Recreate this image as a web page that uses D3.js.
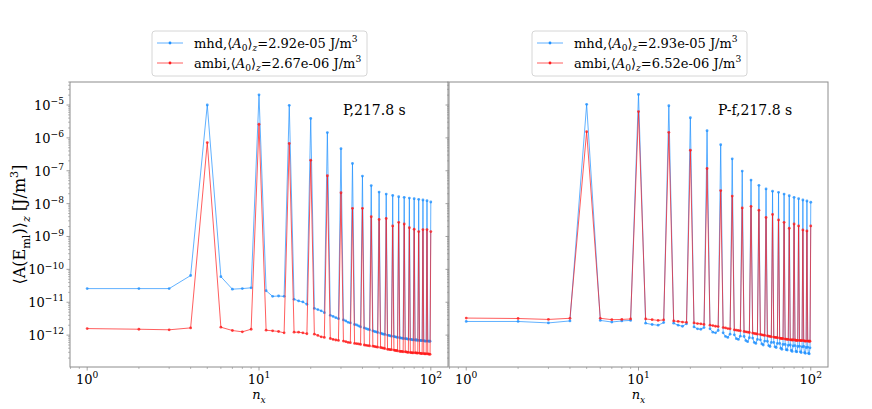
<!DOCTYPE html>
<html>
<head>
<meta charset="utf-8">
<script src="https://cdn.jsdelivr.net/npm/d3@7"></script>
<style>
  body { margin: 0; background: #fff; }
  svg { display: block; }
  text { font-family: 'DejaVu Serif', serif; fill: #000; }
</style>
</head>
<body>
<div id="chart"></div>
<script>
// n_x values, 1..100
const nx = d3.range(1, 101);

// left panel (P, 217.8 s)
const mhdP = [
  2.6e-11, 2.6e-11, 2.6e-11, 6.5e-11, 1.0e-5,
  6.0e-11, 2.5e-11, 2.6e-11, 2.75e-11, 2.04e-5,
  2.24e-11, 1.51e-11, 1.55e-11, 1.51e-11, 9.8e-6,
  1.23e-11, 1.10e-11, 1.02e-11, 8.7e-12, 3.9e-6,
  6.5e-12, 6.0e-12, 5.5e-12, 4.8e-12, 1.45e-6,
  4.0e-12, 3.7e-12, 3.4e-12, 3.16e-12, 4.7e-7,
  2.9e-12, 2.7e-12, 2.45e-12, 2.35e-12, 1.66e-7,
  2.1e-12, 2.04e-12, 1.9e-12, 1.78e-12, 6.9e-8,
  1.66e-12, 1.58e-12, 1.51e-12, 1.45e-12, 3.55e-8,
  1.35e-12, 1.29e-12, 1.26e-12, 1.20e-12, 2.24e-8,
  1.15e-12, 1.10e-12, 1.07e-12, 1.05e-12, 1.95e-8,
  1.0e-12, 9.8e-13, 9.5e-13, 9.3e-13, 1.78e-8,
  9.1e-13, 8.9e-13, 8.7e-13, 8.5e-13, 1.62e-8,
  8.3e-13, 8.1e-13, 8.1e-13, 7.9e-13, 1.55e-8,
  7.8e-13, 7.8e-13, 7.6e-13, 7.6e-13, 1.48e-8,
  7.4e-13, 7.4e-13, 7.2e-13, 7.2e-13, 1.41e-8,
  7.1e-13, 7.1e-13, 7.1e-13, 6.9e-13, 1.35e-8,
  6.9e-13, 6.9e-13, 6.8e-13, 6.8e-13, 1.29e-8,
  6.8e-13, 6.6e-13, 6.6e-13, 6.6e-13, 1.23e-8,
  6.6e-13, 6.6e-13, 6.5e-13, 6.5e-13, 1.12e-8
];
const ambiP = [
  1.58e-12, 1.51e-12, 1.45e-12, 1.66e-12, 7.2e-7,
  1.74e-12, 1.38e-12, 1.26e-12, 1.51e-12, 2.6e-6,
  1.41e-12, 1.35e-12, 1.29e-12, 1.17e-12, 6.8e-7,
  1.23e-12, 1.23e-12, 1.17e-12, 1.10e-12, 2.1e-7,
  1.07e-12, 9.8e-13, 8.9e-13, 8.5e-13, 7.1e-8,
  7.9e-13, 7.4e-13, 7.1e-13, 6.9e-13, 2.14e-8,
  6.6e-13, 6.3e-13, 6.0e-13, 5.9e-13, 7.2e-9,
  5.6e-13, 5.5e-13, 5.4e-13, 5.2e-13, 7.2e-9,
  5.0e-13, 4.9e-13, 4.8e-13, 4.7e-13, 4.0e-9,
  4.6e-13, 4.5e-13, 4.4e-13, 4.3e-13, 3.3e-9,
  4.2e-13, 4.1e-13, 4.0e-13, 3.9e-13, 3.55e-9,
  3.7e-13, 3.7e-13, 3.6e-13, 3.6e-13, 2.1e-9,
  3.5e-13, 3.4e-13, 3.4e-13, 3.3e-13, 2.7e-9,
  3.2e-13, 3.2e-13, 3.2e-13, 3.1e-13, 2.4e-9,
  3.1e-13, 3.1e-13, 3.0e-13, 3.0e-13, 1.86e-9,
  2.95e-13, 2.95e-13, 2.9e-13, 2.9e-13, 1.66e-9,
  2.9e-13, 2.9e-13, 2.85e-13, 2.85e-13, 1.41e-9,
  2.85e-13, 2.8e-13, 2.75e-13, 2.75e-13, 1.62e-9,
  2.75e-13, 2.7e-13, 2.7e-13, 2.7e-13, 1.62e-9,
  2.7e-13, 2.65e-13, 2.65e-13, 2.6e-13, 1.41e-9
];

// right panel (P-f, 217.8 s)
const mhdPf = [
  2.6e-12, 2.6e-12, 2.35e-12, 2.7e-12, 1.05e-5,
  2.8e-12, 2.5e-12, 2.7e-12, 2.8e-12, 2.1e-5,
  2.3e-12, 2.1e-12, 2.0e-12, 2.4e-12, 9.5e-6,
  2.3e-12, 2.0e-12, 1.86e-12, 2.2e-12, 4.1e-6,
  1.78e-12, 1.55e-12, 1.51e-12, 1.7e-12, 1.66e-6,
  1.55e-12, 1.23e-12, 1.17e-12, 1.38e-12, 6.2e-7,
  1.17e-12, 9.1e-13, 8.5e-13, 1.07e-12, 2.3e-7,
  1.02e-12, 7.8e-13, 7.4e-13, 9.3e-13, 9.8e-8,
  9.1e-13, 6.8e-13, 6.3e-13, 8.3e-13, 5.2e-8,
  8.1e-13, 6.0e-13, 5.6e-13, 7.4e-13, 3.6e-8,
  7.2e-13, 5.4e-13, 5.0e-13, 6.6e-13, 2.8e-8,
  6.5e-13, 4.8e-13, 4.5e-13, 6.0e-13, 2.4e-8,
  6.0e-13, 4.4e-13, 4.2e-13, 5.6e-13, 2.2e-8,
  5.6e-13, 4.0e-13, 3.7e-13, 5.2e-13, 1.95e-8,
  5.2e-13, 3.6e-13, 3.5e-13, 4.9e-13, 1.74e-8,
  5.0e-13, 3.4e-13, 3.2e-13, 4.7e-13, 1.55e-8,
  4.8e-13, 3.2e-13, 3.1e-13, 4.5e-13, 1.41e-8,
  4.6e-13, 3.1e-13, 2.95e-13, 4.4e-13, 1.29e-8,
  4.5e-13, 2.95e-13, 2.8e-13, 4.2e-13, 1.2e-8,
  4.3e-13, 2.8e-13, 2.7e-13, 4.1e-13, 1.1e-8
];
const ambiPf = [
  3.3e-12, 3.2e-12, 3.0e-12, 3.25e-12, 1.55e-6,
  3.25e-12, 2.95e-12, 3.0e-12, 3.1e-12, 6.3e-6,
  3.1e-12, 2.95e-12, 2.8e-12, 2.9e-12, 1.48e-6,
  2.7e-12, 2.6e-12, 2.5e-12, 2.45e-12, 4.2e-7,
  2.35e-12, 2.25e-12, 2.2e-12, 2.1e-12, 1.17e-7,
  2.0e-12, 1.95e-12, 1.86e-12, 1.82e-12, 2.5e-8,
  1.7e-12, 1.66e-12, 1.58e-12, 1.55e-12, 1.7e-8,
  1.45e-12, 1.41e-12, 1.38e-12, 1.35e-12, 7.4e-9,
  1.29e-12, 1.26e-12, 1.23e-12, 1.2e-12, 8.3e-9,
  1.15e-12, 1.12e-12, 1.1e-12, 1.07e-12, 6.3e-9,
  1.05e-12, 1.02e-12, 1.0e-12, 9.8e-13, 3.8e-9,
  9.5e-13, 9.3e-13, 9.1e-13, 8.9e-13, 4.7e-9,
  8.7e-13, 8.5e-13, 8.5e-13, 8.3e-13, 3.2e-9,
  8.1e-13, 7.9e-13, 7.9e-13, 7.8e-13, 2.7e-9,
  7.6e-13, 7.6e-13, 7.4e-13, 7.4e-13, 1.78e-9,
  7.2e-13, 7.2e-13, 7.1e-13, 7.1e-13, 2.4e-9,
  7.1e-13, 6.9e-13, 6.9e-13, 6.9e-13, 2.1e-9,
  6.9e-13, 6.8e-13, 6.8e-13, 6.8e-13, 1.58e-9,
  6.8e-13, 6.6e-13, 6.6e-13, 6.6e-13, 1.48e-9,
  6.6e-13, 6.6e-13, 6.5e-13, 6.5e-13, 2.1e-9
];

const panelTitles = ['P,217.8 s', 'P-f,217.8 s'];
const mhdA0 = ['2.92e-05', '2.93e-05'];
const ambiA0 = ['2.67e-06', '6.52e-06'];
const yTickExp = [-12, -11, -10, -9, -8, -7, -6, -5];
const xTickExp = [0, 1, 2];

const mhdColor = '#1e90ff';
const ambiColor = '#ff1a1a';

const W = 872, H = 409;
const plotTop = 82, plotBottom = 367;
const panelX = [[70, 448], [449, 828]];

const svg = d3.select('#chart').append('svg')
  .attr('width', W)
  .attr('height', H);

const y = d3.scaleLog()
  .domain([Math.pow(10, -12.97), Math.pow(10, -4.30)])
  .range([plotBottom, plotTop]);

// writes plain / sub / sup / italic runs into a text node,
// carrying the baseline offset over to the next run
function richText(sel, parts, size) {
  let shift = 0;
  parts.forEach(p => {
    const [str, kind] = p;
    let target = 0;
    if (kind === 'sub' || kind === 'subit') target = size * 0.3;
    if (kind === 'sup') target = -size * 0.45;
    const t = sel.append('tspan').text(str);
    if (target - shift !== 0) t.attr('dy', target - shift);
    shift = target;
    if (target !== 0) t.style('font-size', (size * 0.7) + 'px');
    if (kind === 'it' || kind === 'subit') t.style('font-style', 'italic');
  });
}

const series = [[mhdP, ambiP], [mhdPf, ambiPf]];
const colors = [mhdColor, ambiColor];

panelX.forEach((px, i) => {
  const x = d3.scaleLog()
    .domain([Math.pow(10, -0.1), Math.pow(10, 2.1)])
    .range(px);
  const g = svg.append('g');

  // frame
  g.append('rect')
    .attr('x', px[0]).attr('y', plotTop)
    .attr('width', px[1] - px[0]).attr('height', plotBottom - plotTop)
    .attr('fill', 'none').attr('stroke', '#8c8c8c').attr('stroke-width', 1);

  // x ticks
  const xMinor = [];
  for (let e = -1; e <= 2; e++) {
    for (let m = 2; m <= 9; m++) {
      const v = m * Math.pow(10, e);
      if (v >= x.domain()[0] && v <= x.domain()[1]) xMinor.push(v);
    }
  }
  g.selectAll('.xminor').data(xMinor).join('line')
    .attr('x1', d => x(d)).attr('x2', d => x(d))
    .attr('y1', plotBottom).attr('y2', plotBottom + 2)
    .attr('stroke', '#8c8c8c').attr('stroke-width', 0.6);
  g.selectAll('.xmajor').data(xTickExp).join('line')
    .attr('x1', d => x(Math.pow(10, d))).attr('x2', d => x(Math.pow(10, d)))
    .attr('y1', plotBottom).attr('y2', plotBottom + 3.5)
    .attr('stroke', '#8c8c8c').attr('stroke-width', 0.8);
  xTickExp.forEach(e => {
    const t = g.append('text')
      .attr('x', x(Math.pow(10, e)))
      .attr('y', 384)
      .attr('text-anchor', 'middle')
      .style('font-size', '13px');
    richText(t, [['10', 'n'], [String(e), 'sup']], 13);
  });

  // y ticks
  const yMinor = [];
  for (let e = -14; e <= -4; e++) {
    for (let m = 2; m <= 9; m++) {
      const v = m * Math.pow(10, e);
      if (v >= y.domain()[0] && v <= y.domain()[1]) yMinor.push(v);
    }
  }
  g.selectAll('.yminor').data(yMinor).join('line')
    .attr('x1', px[0] - 2).attr('x2', px[0])
    .attr('y1', d => y(d)).attr('y2', d => y(d))
    .attr('stroke', '#8c8c8c').attr('stroke-width', 0.6);
  g.selectAll('.ymajor').data(yTickExp).join('line')
    .attr('x1', px[0] - 3.5).attr('x2', px[0])
    .attr('y1', d => y(Math.pow(10, d))).attr('y2', d => y(Math.pow(10, d)))
    .attr('stroke', '#8c8c8c').attr('stroke-width', 0.8);
  if (i === 0) {
    yTickExp.forEach(e => {
      const t = g.append('text')
        .attr('x', 64)
        .attr('y', y(Math.pow(10, e)) + 5)
        .attr('text-anchor', 'end')
        .style('font-size', '13px');
      richText(t, [['10', 'n'], ['\u2212' + Math.abs(e), 'sup']], 13);
    });
  }

  // data
  const line = d3.line().x(d => x(d[0])).y(d => y(d[1]));
  series[i].forEach((vals, k) => {
    const pts = nx.map((n, j) => [n, vals[j]]);
    g.append('path')
      .datum(pts)
      .attr('d', line)
      .attr('fill', 'none')
      .attr('stroke', colors[k])
      .attr('stroke-opacity', 0.7)
      .attr('stroke-width', 1);
    g.selectAll('.pt' + k).data(pts).join('circle')
      .attr('cx', d => x(d[0]))
      .attr('cy', d => y(d[1]))
      .attr('r', 1.4)
      .attr('fill', colors[k])
      .attr('fill-opacity', 0.8);
  });

  // panel title
  g.append('text')
    .attr('x', i === 0 ? 343 : 718)
    .attr('y', 115)
    .style('font-size', '14px')
    .text(panelTitles[i]);

  // x label
  const xl = g.append('text')
    .attr('x', (px[0] + px[1]) / 2)
    .attr('y', 399)
    .attr('text-anchor', 'middle')
    .style('font-size', '13px');
  richText(xl, [['n', 'it'], ['x', 'subit']], 13);

  // legend
  const lx = i === 0 ? 152 : 532;
  const lg = g.append('g').attr('transform', `translate(${lx},31)`);
  lg.append('rect')
    .attr('width', 215).attr('height', 45)
    .attr('rx', 3)
    .attr('fill', '#fff').attr('stroke', '#d6d6d6');
  const labels = [
    ['mhd,', mhdA0[i]],
    ['ambi,', ambiA0[i]]
  ];
  labels.forEach((lab, k) => {
    const ly = 12 + k * 20;
    lg.append('line')
      .attr('x1', 5).attr('x2', 31)
      .attr('y1', ly).attr('y2', ly)
      .attr('stroke', colors[k]).attr('stroke-opacity', 0.7).attr('stroke-width', 1);
    lg.append('circle')
      .attr('cx', 18).attr('cy', ly).attr('r', 1.4)
      .attr('fill', colors[k]);
    const t = lg.append('text')
      .attr('x', 42).attr('y', ly + 4.5)
      .style('font-size', '13px');
    richText(t, [
      [lab[0], 'n'],
      ['\u27e8', 'n'],
      ['A', 'it'],
      ['0', 'sub'],
      ['\u27e9', 'n'],
      ['z', 'subit'],
      ['=' + lab[1] + ' J/m', 'n'],
      ['3', 'sup']
    ], 13);
  });
});

// y label
const yl = svg.append('text')
  .attr('transform', `translate(25,${(plotTop + plotBottom) / 2}) rotate(-90)`)
  .attr('text-anchor', 'middle')
  .style('font-size', '16px');
richText(yl, [
  ['\u27e8A(E', 'n'],
  ['ml', 'sub'],
  [')\u27e9', 'n'],
  ['z', 'subit'],
  [' [J/m', 'n'],
  ['3', 'sup'],
  [']', 'n']
], 16);
</script>
</body>
</html>
